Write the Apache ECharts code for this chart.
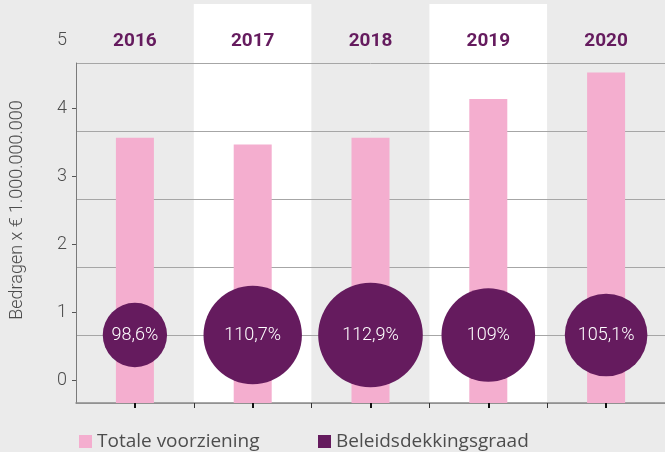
<!DOCTYPE html>
<html>
<head>
<meta charset="utf-8">
<script src="https://cdn.jsdelivr.net/npm/echarts@6/dist/echarts.min.js"></script>
<style>
  html, body { margin: 0; padding: 0; background: #ebebeb; }
  #chart { width: 665px; height: 452px; }
</style>
</head>
<body>
<div id="chart"></div>
<script>
// jaren en waarden (miljard euro / dekkingsgraad %)
const years = ["2016", "2017", "2018", "2019", "2020"];
const voorziening = [3.56, 3.46, 3.56, 4.13, 4.52];
const dekkingsgraad = [98.6, 110.7, 112.9, 109, 105.1];
const yTicks = [0, 1, 2, 3, 4];

// as-instellingen: raster loopt van -0.34 tot 4.66, bollen op de tweede lijn
const axisMin = -0.34;
const axisMax = 4.66;
const circleLevel = 0.66;

const purple = "#651b5e";
const pink = "#f4aecf";
const textGrey = "#4d4d4d";
const font = "Roboto";

const chart = echarts.init(document.getElementById("chart"));

function pct(v) {
  return String(v).replace(".", ",") + "%";
}

const legendText = { color: textGrey, fontSize: 19, fontFamily: "Open Sans" };
const plotGrid = { left: 76, right: 0, top: 63, bottom: 49 };

chart.setOption({
  backgroundColor: "#ebebeb",
  animation: false,
  textStyle: { fontFamily: font },
  grid: [
    // banden
    { left: 76, right: 0, top: 4, bottom: 49 },
    // hoofdplot
    plotGrid,
    // labels y-as (0 t/m 5)
    { left: 76, right: 0, top: 40, bottom: 72 },
    // middenstreepjes x-as
    plotGrid,
    // grensstreepjes x-as
    plotGrid
  ],
  legend: [
    {
      data: ["Totale voorziening"],
      left: 74, top: 427,
      icon: "rect", itemWidth: 13, itemHeight: 13,
      textStyle: legendText
    },
    {
      data: ["Beleidsdekkingsgraad"],
      left: 313, top: 427,
      icon: "rect", itemWidth: 13, itemHeight: 13,
      textStyle: legendText
    }
  ],
  xAxis: [
    {
      gridIndex: 0, type: "category", data: years,
      axisLine: { show: false, onZero: false }, axisTick: { show: false }, axisLabel: { show: false },
      splitArea: { show: true, areaStyle: { color: ["#ebebeb", "#ffffff"] } },
      z: 0
    },
    {
      gridIndex: 1, type: "category", data: years, position: "bottom",
      axisLine: { show: true, onZero: false, lineStyle: { color: "#8a8a8a", width: 1.5 } },
      axisTick: { show: false },
      axisLabel: { show: false },
      z: 3
    },
    {
      gridIndex: 1, type: "category", data: years, position: "top",
      axisLine: { show: false, onZero: false }, axisTick: { show: false },
      axisLabel: { color: purple, fontSize: 19, fontWeight: "bold", fontFamily: font, margin: 12 }
    },
    {
      gridIndex: 2, type: "category", data: years, show: false,
      axisLine: { onZero: false }
    },
    {
      gridIndex: 3, type: "category", data: years, position: "bottom",
      axisLine: { show: false, onZero: false },
      axisTick: { show: true, alignWithLabel: true, length: 5, lineStyle: { color: "#111", width: 2 } },
      axisLabel: { show: false },
      z: 3
    },
    {
      gridIndex: 4, type: "value", min: 0, max: years.length, interval: 1, position: "bottom",
      axisLine: { show: false, onZero: false },
      axisTick: { show: true, customValues: [1, 2, 3, 4], length: 5, lineStyle: { color: "#333", width: 1 } },
      axisLabel: { show: false },
      splitLine: { show: false },
      z: 3
    }
  ],
  yAxis: [
    {
      gridIndex: 0, type: "value", show: false
    },
    {
      gridIndex: 1, type: "value", min: axisMin, max: axisMax, interval: 1,
      axisLine: { show: true, onZero: false, lineStyle: { color: "#7a7a7a", width: 1 } },
      axisTick: { show: false }, axisLabel: { show: false },
      splitLine: { show: true, lineStyle: { color: "#a6a6a6", width: 1 } },
      z: 2
    },
    {
      gridIndex: 2, type: "value", min: 0, max: 5, interval: 1,
      name: "Bedragen x € 1.000.000.000",
      nameLocation: "middle", nameGap: 50,
      nameTextStyle: { color: textGrey, fontSize: 18, fontWeight: 300, fontFamily: font },
      axisLine: { show: false, onZero: false },
      axisTick: { show: true, customValues: yTicks, length: 4, lineStyle: { color: "#555" } },
      axisLabel: { color: textGrey, fontSize: 18, fontWeight: 300, fontFamily: font, margin: 9 },
      splitLine: { show: false }
    },
    {
      gridIndex: 3, type: "value", show: false
    },
    {
      gridIndex: 4, type: "value", show: false
    }
  ],
  series: [
    {
      name: "Totale voorziening",
      type: "bar",
      xAxisIndex: 1, yAxisIndex: 1,
      data: voorziening,
      stack: "voet",
      barWidth: 38,
      itemStyle: { color: pink },
      z: 3
    },
    {
      // voetstuk: de staaf loopt door tot de onderkant van de as
      name: "voet",
      type: "bar",
      xAxisIndex: 1, yAxisIndex: 1,
      data: years.map(() => axisMin),
      stack: "voet",
      barWidth: 38,
      itemStyle: { color: pink },
      silent: true,
      z: 3
    },
    {
      name: "Beleidsdekkingsgraad",
      type: "scatter",
      xAxisIndex: 1, yAxisIndex: 1,
      data: years.map((y, i) => [y, circleLevel, dekkingsgraad[i]]),
      symbol: "circle",
      symbolSize: v => (v[2] - 75.8) * 2.82,
      itemStyle: { color: purple, opacity: 1 },
      label: {
        show: true, position: "inside",
        formatter: p => pct(p.value[2]),
        color: "#ffffff", fontSize: 18, fontWeight: 300, fontFamily: font
      },
      z: 4
    }
  ]
});
</script>
</body>
</html>
